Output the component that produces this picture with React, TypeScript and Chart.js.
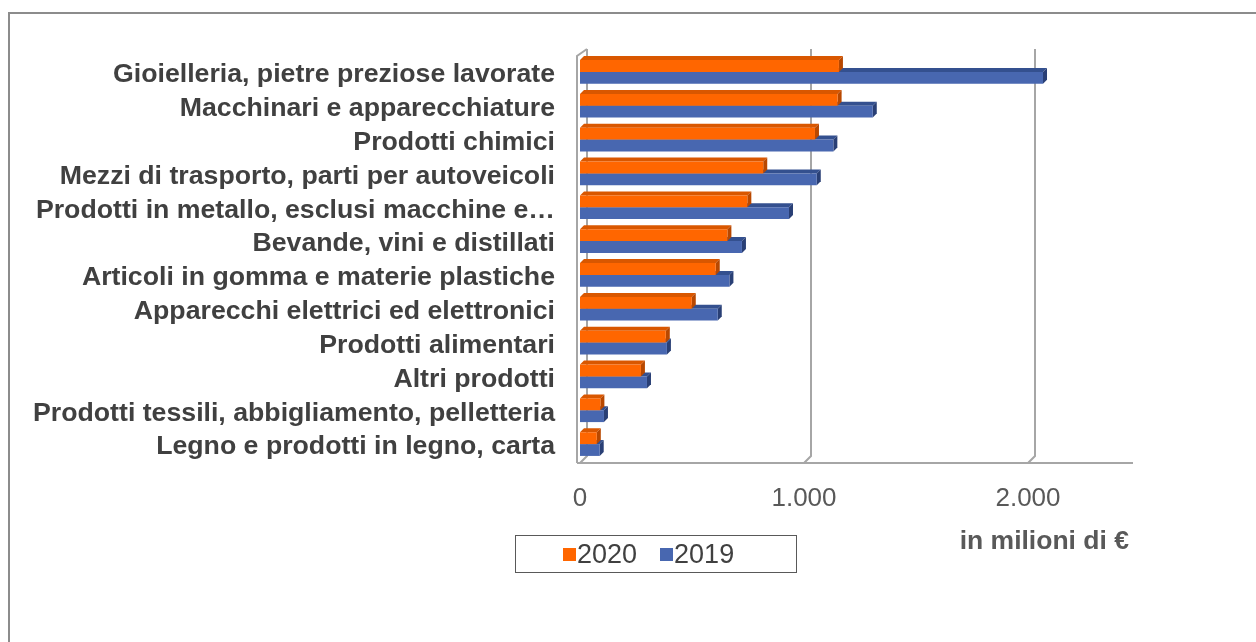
import React, { useEffect, useRef } from "react";
import { Chart, registerables } from "chart.js";

Chart.register(...registerables);

const categories = [
  "Gioielleria, pietre preziose lavorate",
  "Macchinari e apparecchiature",
  "Prodotti chimici",
  "Mezzi di trasporto, parti per autoveicoli",
  "Prodotti in metallo, esclusi macchine e…",
  "Bevande, vini e distillati",
  "Articoli in gomma e materie plastiche",
  "Apparecchi elettrici ed elettronici",
  "Prodotti alimentari",
  "Altri prodotti",
  "Prodotti tessili, abbigliamento, pelletteria",
  "Legno e prodotti in legno, carta",
];

const values2020 = [1156, 1150, 1049, 818, 747, 658, 606, 499, 383, 272, 91, 75];
const values2019 = [2067, 1307, 1131, 1057, 933, 723, 667, 615, 388, 299, 107, 88];

const seriesLabels = ["2020", "2019"];
const tickValues = [0, 1000, 2000];
const axisMax = 2500;
const axisTitle = "in milioni di €";

const ORANGE = "#FF6600";
const ORANGE_TOP = "#D95700";
const ORANGE_SIDE = "#B84800";
const BLUE = "#4867B0";
const BLUE_TOP = "#34508F";
const BLUE_SIDE = "#293F75";

const fmt = (v: number) =>
  String(Math.round(v)).replace(/\B(?=(\d{3})+(?!\d))/g, ".");

const DEPTH = 4;
const WALL_DX = 7;
const WALL_DY = 7;

const wallPlugin = {
  id: "wall3d",
  beforeDatasetsDraw(chart: any) {
    const { ctx, chartArea, scales } = chart;
    const xs = scales.x;
    const top = chartArea.top - 6;
    const backBottom = chartArea.bottom - 5;
    const frontBottom = chartArea.bottom + 2;
    ctx.save();
    ctx.strokeStyle = "#A6A6A6";
    ctx.lineWidth = 2;
    tickValues.forEach((v) => {
      const px = xs.getPixelForValue(v);
      ctx.beginPath();
      ctx.moveTo(px + WALL_DX, top);
      ctx.lineTo(px + WALL_DX, backBottom);
      ctx.lineTo(px, frontBottom);
      ctx.stroke();
    });
    const x0 = xs.getPixelForValue(0);
    ctx.beginPath();
    ctx.moveTo(x0 - 3, frontBottom);
    ctx.lineTo(x0 - 3, top + WALL_DY);
    ctx.lineTo(x0 - 3 + WALL_DX + 3, top);
    ctx.stroke();
    ctx.beginPath();
    ctx.moveTo(x0 - 3, frontBottom);
    ctx.lineTo(chartArea.right - 7, frontBottom);
    ctx.stroke();
    ctx.restore();

    const faces = [
      { idx: 1, top: BLUE_TOP, side: BLUE_SIDE },
      { idx: 0, top: ORANGE_TOP, side: ORANGE_SIDE },
    ];
    ctx.save();
    faces.forEach((f) => {
      const meta = chart.getDatasetMeta(f.idx);
      meta.data.forEach((el: any) => {
        const { x, y, base, height } = el.getProps(["x", "y", "base", "height"], true);
        const t = y - height / 2;
        const b = y + height / 2;
        const d = DEPTH;
        ctx.fillStyle = f.top;
        ctx.beginPath();
        ctx.moveTo(base, t);
        ctx.lineTo(base + d, t - d);
        ctx.lineTo(x + d, t - d);
        ctx.lineTo(x, t);
        ctx.closePath();
        ctx.fill();
        ctx.fillStyle = f.side;
        ctx.beginPath();
        ctx.moveTo(x, t);
        ctx.lineTo(x + d, t - d);
        ctx.lineTo(x + d, b - d);
        ctx.lineTo(x, b);
        ctx.closePath();
        ctx.fill();
      });
    });
    ctx.restore();
  },
};

export default function App() {
  const ref = useRef<HTMLCanvasElement | null>(null);

  useEffect(() => {
    if (!ref.current) return;
    const chart = new Chart(ref.current, {
      type: "bar",
      data: {
        labels: categories,
        datasets: [
          {
            label: seriesLabels[0],
            data: values2020,
            backgroundColor: ORANGE,
            borderWidth: 0,
          },
          {
            label: seriesLabels[1],
            data: values2019,
            backgroundColor: BLUE,
            borderWidth: 0,
          },
        ],
      },
      options: {
        indexAxis: "y",
        animation: false,
        responsive: false,
        maintainAspectRatio: false,
        layout: { padding: { left: 0, right: 116, top: 55, bottom: 0 } },
        datasets: {
          bar: { categoryPercentage: 0.7, barPercentage: 1.0 },
        },
        plugins: {
          legend: { display: false },
          tooltip: { enabled: false },
        },
        scales: {
          x: {
            type: "linear",
            min: 0,
            max: axisMax,
            grid: { display: false, drawTicks: false },
            border: { display: false },
            afterFit: (s: any) => {
              s.height = 181;
            },
            afterBuildTicks: (s: any) => {
              s.ticks = tickValues.map((v) => ({ value: v }));
            },
            ticks: {
              padding: 22,
              color: "#595959",
              font: { family: "'Liberation Sans', Arial, sans-serif", size: 26 },
              callback: (v: any) => fmt(Number(v)),
            },
          },
          y: {
            type: "category",
            grid: { display: false, drawTicks: false },
            border: { display: false },
            afterFit: (s: any) => {
              s.width = 580;
            },
            ticks: {
              padding: 25,
              labelOffset: 3,
              autoSkip: false,
              color: "#404040",
              font: {
                family: "'Liberation Sans', Arial, sans-serif",
                size: 26.7,
                weight: "bold",
              },
            },
          },
        },
      },
      plugins: [wallPlugin],
    });
    return () => chart.destroy();
  }, []);

  const font = "'Liberation Sans', Arial, sans-serif";

  return (
    <div
      style={{
        position: "fixed",
        left: 0,
        top: 0,
        width: 1256,
        height: 642,
        background: "#fff",
        overflow: "hidden",
      }}
    >
      <div
        style={{
          position: "absolute",
          left: 8,
          top: 12,
          width: 1260,
          height: 640,
          borderTop: "2px solid #8C8C8C",
          borderLeft: "2px solid #8C8C8C",
          boxSizing: "border-box",
        }}
      />
      <canvas
        ref={ref}
        width={1256}
        height={642}
        style={{ position: "absolute", left: 0, top: 0, width: 1256, height: 642 }}
      />
      <div
        style={{
          position: "absolute",
          left: 900,
          top: 525,
          width: 229,
          textAlign: "right",
          fontFamily: font,
          fontWeight: "bold",
          fontSize: 26.5,
          lineHeight: "30px",
          color: "#595959",
          whiteSpace: "nowrap",
        }}
      >
        {axisTitle}
      </div>
      <div
        style={{
          position: "absolute",
          left: 515,
          top: 535,
          width: 282,
          height: 38,
          border: "1px solid #595959",
          boxSizing: "border-box",
          display: "flex",
          alignItems: "center",
          justifyContent: "flex-start",
          paddingLeft: 47,
          gap: 23,
          fontFamily: font,
          fontSize: 27,
          lineHeight: "30px",
          color: "#404040",
        }}
      >
        {seriesLabels.map((l, i) => (
          <div key={l} style={{ display: "flex", alignItems: "center" }}>
            <span
              style={{
                display: "inline-block",
                width: 13,
                height: 13,
                background: i === 0 ? ORANGE : BLUE,
                marginRight: 1,
              }}
            />
            <span>{l}</span>
          </div>
        ))}
      </div>
    </div>
  );
}
